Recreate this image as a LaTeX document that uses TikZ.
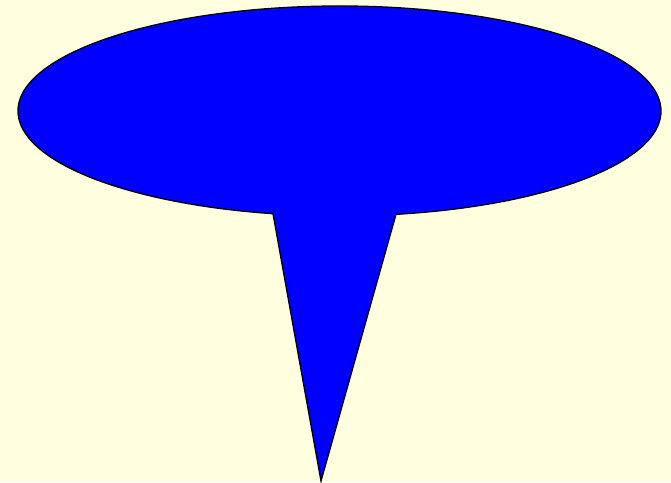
\documentclass[tikz,border=0pt]{standalone}
\definecolor{bgyellow}{RGB}{255,255,224}
\definecolor{calloutblue}{RGB}{0,0,255}
\tikzset{callout/.style={fill=calloutblue,draw=black,line width=1.3pt,line join=miter}}
\begin{document}
\begin{tikzpicture}[x=1pt,y=1pt]
\fill[bgyellow] (0,0) rectangle (671,482);
\useasboundingbox (0,0) rectangle (671,482);
\coordinate (c) at (339.5,371);
\coordinate (tip) at (321,1);
\draw[callout] (c) ++(-79.88:321.5 and 105) arc[start angle=-79.88, end angle=258.06, x radius=321.5, y radius=105] -- (tip) -- cycle;
\end{tikzpicture}
\end{document}
